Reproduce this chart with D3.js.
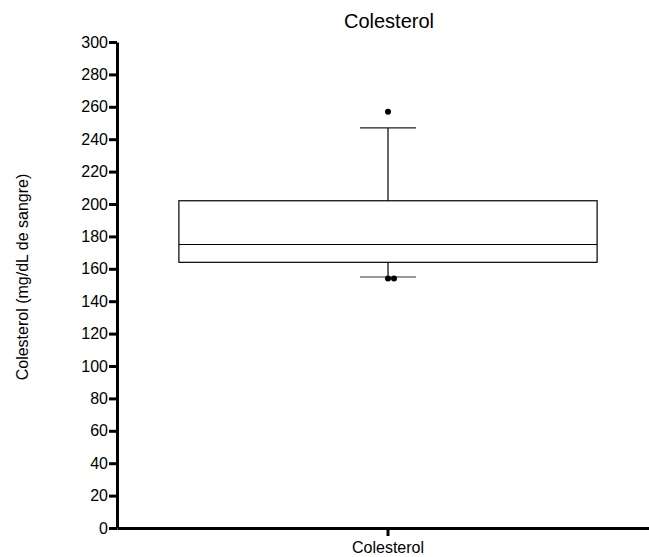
<!DOCTYPE html>
<html>
<head>
<meta charset="utf-8">
<script src="https://cdn.jsdelivr.net/npm/d3@7"></script>
<style>
  body { margin: 0; background: #fff; }
  svg { font-family: "Liberation Sans", Arial, sans-serif; }
</style>
</head>
<body>
<svg width="649" height="557"></svg>
<script>
// datos
const categories = ['Colesterol'];
const boxStats = [{q1: 164, median: 175, q3: 202, low: 155, high: 247}];
const outliers = [257, 154, 154];
const yTicks = d3.range(0, 301, 20);

const svg = d3.select('svg');

const yScale = d3.scaleLinear().domain([0, 300]).range([528, 42]);
// una sola categoría, centrada en x=388
const xScale = d3.scaleBand().domain(categories).range([117, 659]).paddingInner(0).paddingOuter(0.148);

const yAxis = svg.append('g')
  .attr('transform', 'translate(117,0)')
  .call(d3.axisLeft(yScale).tickValues(yTicks).tickSize(8).tickSizeOuter(0).tickPadding(1));
yAxis.select('.domain').attr('stroke', '#000').attr('stroke-width', 3);
yAxis.selectAll('.tick line').attr('stroke', '#000').attr('stroke-width', 3);
yAxis.selectAll('.tick text').attr('font-size', 16).attr('fill', '#000')
  .attr('font-family', '"Liberation Sans", Arial, sans-serif');

const xAxis = svg.append('g')
  .attr('transform', 'translate(0,528)')
  .call(d3.axisBottom(xScale).tickSize(8).tickSizeOuter(0).tickPadding(6));
xAxis.select('.domain').attr('stroke', '#000').attr('stroke-width', 3);
xAxis.selectAll('.tick line').attr('stroke', '#000').attr('stroke-width', 3);
xAxis.selectAll('.tick text').attr('font-size', 16).attr('fill', '#000')
  .attr('font-family', '"Liberation Sans", Arial, sans-serif');

// caja
const g = svg.append('g');
const capW = 56;
boxStats.forEach((d, i) => {
  const cat = categories[i];
  const x0 = xScale(cat), bw = xScale.bandwidth(), cx = x0 + bw / 2;
  // bigotes
  g.append('line').attr('x1', cx).attr('x2', cx)
    .attr('y1', yScale(d.q3)).attr('y2', yScale(d.high))
    .attr('stroke', '#666').attr('stroke-width', 2);
  g.append('line').attr('x1', cx).attr('x2', cx)
    .attr('y1', yScale(d.q1)).attr('y2', yScale(d.low))
    .attr('stroke', '#666').attr('stroke-width', 2);
  g.append('line').attr('x1', cx - capW / 2).attr('x2', cx + capW / 2)
    .attr('y1', yScale(d.high)).attr('y2', yScale(d.high))
    .attr('stroke', '#222').attr('stroke-width', 1.3);
  g.append('line').attr('x1', cx - capW / 2).attr('x2', cx + capW / 2)
    .attr('y1', yScale(d.low)).attr('y2', yScale(d.low))
    .attr('stroke', '#777').attr('stroke-width', 1.5);
  g.append('rect').attr('x', x0).attr('width', bw)
    .attr('y', yScale(d.q3)).attr('height', yScale(d.q1) - yScale(d.q3))
    .attr('fill', 'none').attr('stroke', '#000').attr('stroke-width', 1.2);
  g.append('line').attr('x1', x0).attr('x2', x0 + bw)
    .attr('y1', yScale(d.median)).attr('y2', yScale(d.median))
    .attr('stroke', '#000').attr('stroke-width', 1.2);

  // valores atípicos: los repetidos se colocan lado a lado
  const seen = {};
  outliers.forEach(v => {
    const k = seen[v] || 0;
    seen[v] = k + 1;
    g.append('circle').attr('cx', cx + k * 6).attr('cy', yScale(v)).attr('r', 3).attr('fill', '#000');
  });
});

svg.append('text').attr('x', 389).attr('y', 28).attr('text-anchor', 'middle')
  .attr('font-size', 20).text('Colesterol');

svg.append('text').attr('transform', 'translate(28,277) rotate(-90)')
  .attr('text-anchor', 'middle').attr('font-size', 16).text('Colesterol (mg/dL de sangre)');
</script>
</body>
</html>
